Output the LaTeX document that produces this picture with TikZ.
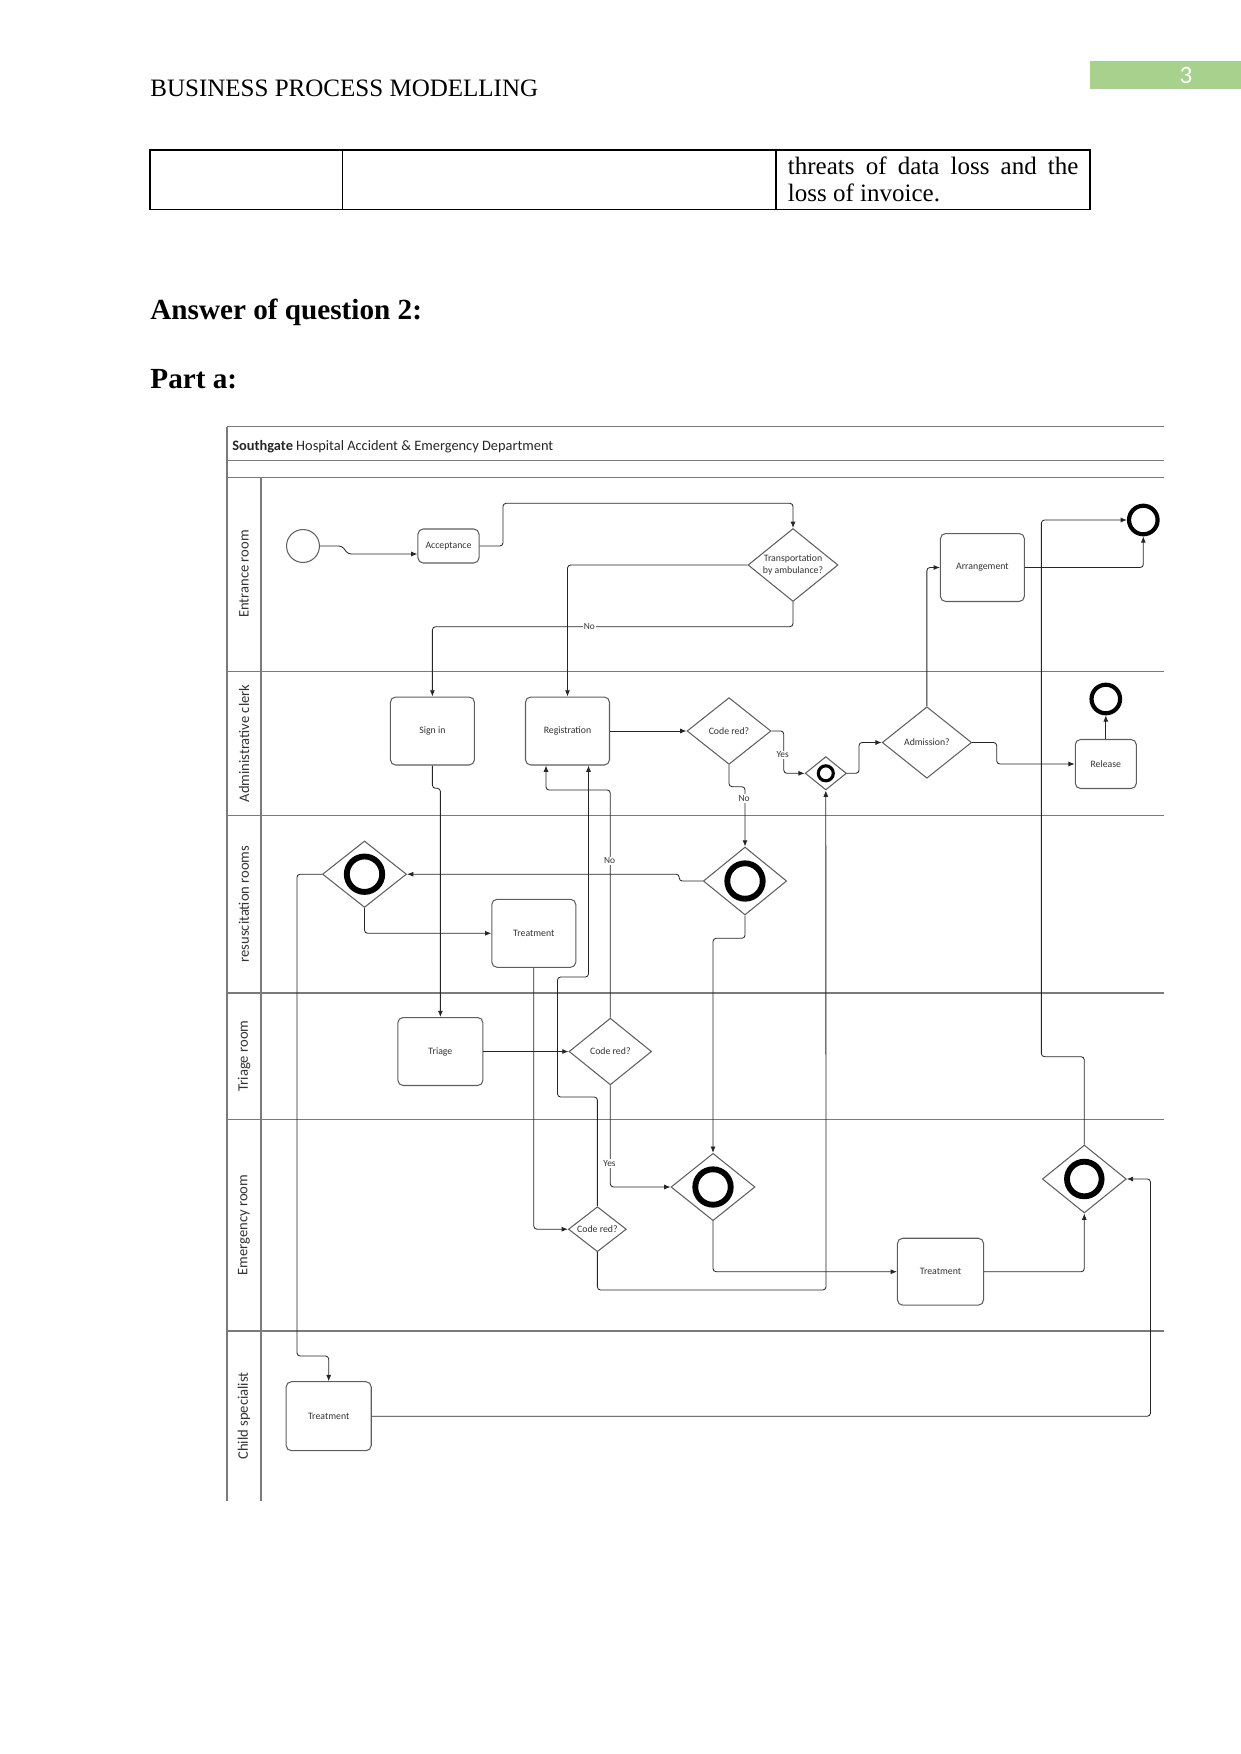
\documentclass[tikz,border=0pt]{standalone}
\usepackage{fontspec}
\setmainfont{Liberation Serif}
\newfontfamily\carl{Carlito}
\usetikzlibrary{shapes.geometric,arrows.meta,calc}
\definecolor{hdrgreen}{HTML}{A9D18E}
\definecolor{framecol}{HTML}{7A7A7A}
\definecolor{edgecol}{HTML}{5E5E5E}
\definecolor{ntext}{HTML}{333333}
\begin{document}
\begin{tikzpicture}[x=0.4797pt,y=-0.4797pt,
  taskbox/.style={draw=edgecol,line width=0.5pt,rounded corners=2.5pt,inner sep=0pt,
    font=\carl\fontsize{4.7}{5.6}\selectfont,text=ntext,fill=white},
  gate/.style={diamond,draw=edgecol,line width=0.5pt,inner sep=0pt,
    font=\carl\fontsize{4.7}{5.4}\selectfont,text=ntext,fill=white},
  startev/.style={circle,draw=edgecol,line width=0.5pt,inner sep=0pt,minimum size=15.8pt},
  endev/.style={circle,draw=black,line width=2pt,inner sep=0pt,minimum size=13.7pt},
  flow/.style={draw=black!85,line width=0.4pt,rounded corners=1.5pt,-{Latex[length=3pt,width=2.4pt]}},
  laneline/.style={draw=framecol,line width=0.7pt},
  lanelabel/.style={rotate=90,font=\carl\fontsize{7}{8}\selectfont,text=black!80},
  flowlabel/.style={font=\carl\fontsize{4.5}{5}\selectfont,fill=white,inner sep=0.6pt,text=ntext}
]
\useasboundingbox (0,0) rectangle (1241,1754);

% ---------- page header ----------
\node[anchor=base west,inner sep=0,font=\fontsize{12}{14}\selectfont] (hdr) at (150,96.7) {BUSINESS PROCESS MODELLING};
\fill[hdrgreen] (1090,61) rectangle (1241,89);
\node[font=\carl\fontsize{12}{14}\selectfont,text=white,inner sep=0] (pgno) at (1186,75.5) {3};

% ---------- table ----------
\draw[line width=0.55pt] (150,150) rectangle (1090,209.3);
\draw[line width=0.55pt] (342.6,150) -- (342.6,209.3);
\draw[line width=0.55pt] (776,150) -- (776,209.3);
\node[anchor=base west,inner sep=0,font=\fontsize{12}{14}\selectfont] (tl1) at (787.5,174)
  {\hbox to 139.4pt{threats\hfill of\hfill data\hfill loss\hfill and\hfill the}};
\node[anchor=base west,inner sep=0,font=\fontsize{12}{14}\selectfont] (tl2) at (787.5,201.7) {loss of invoice.};

% ---------- headings ----------
\node[anchor=base west,inner sep=0,font=\fontsize{14}{16}\selectfont\bfseries] (h1) at (150,319.3) {Answer of question 2:};
\node[anchor=base west,inner sep=0,font=\fontsize{14}{16}\selectfont\bfseries] (h2) at (150,388.3) {Part a:};

% ---------- pool frame ----------
\draw[laneline] (227,426.7) -- (1164,426.7);
\draw[laneline] (227,460.7) -- (1164,460.7);
\draw[laneline] (227,477.3) -- (1164,477.3);
\draw[laneline] (227,671.4) -- (1164,671.4);
\draw[laneline] (227,815.7) -- (1164,815.7);
\draw[laneline] (227,993) -- (1164,993);
\draw[laneline] (227,1119.3) -- (1164,1119.3);
\draw[laneline] (227,1331) -- (1164,1331);
\draw[laneline] (227,426.7) -- (227,1501);
\draw[laneline] (261,477.3) -- (261,1501);

\node[anchor=base west,inner sep=0,font=\carl\fontsize{6.9}{8}\selectfont,text=black!85] (title) at (232,450)
  {\textbf{Southgate} Hospital Accident \& Emergency Department};

\node[lanelabel] (L1) at (244,574) {Entrance room};
\node[lanelabel] (L2) at (244,743.5) {Administrative clerk};
\node[lanelabel] (L3) at (244,904) {resuscitation rooms};
\node[lanelabel] (L4) at (244,1056) {Triage room};
\node[lanelabel] (L5) at (244,1225) {Emergency room};
\node[lanelabel] (L6) at (244,1416) {Child specialist};

% ---------- nodes ----------
\node[startev] (start) at (303,546) {};
\node[taskbox,minimum width=29.3pt,minimum height=16.3pt] (acc) at (448.5,546) {Acceptance};
\node[gate,aspect=1.234,minimum width=43.2pt,minimum height=35pt,align=center] (trans) at (793,565) {Transportation\\by ambulance?};
\node[taskbox,minimum width=40.3pt,minimum height=32.6pt] (arr) at (982.4,567.5) {Arrangement};
\node[endev] (endA) at (1143.3,520) {};

\node[taskbox,minimum width=40.3pt,minimum height=32.6pt] (signin) at (432.4,731) {Sign in};
\node[taskbox,minimum width=40.3pt,minimum height=32.6pt] (reg) at (567.5,731) {Registration};
\node[gate,aspect=1.26,minimum width=40.3pt,minimum height=32pt] (cr1) at (729,731) {Code red?};
\node[gate,aspect=1.23,minimum width=19.8pt,minimum height=16pt] (ev1) at (825.8,773.3) {};
\node[gate,aspect=1.25,minimum width=42.9pt,minimum height=34.3pt] (adm) at (926.9,742.5) {Admission?};
\node[taskbox,minimum width=29.3pt,minimum height=23.5pt] (rel) at (1105.8,764) {Release};
\node[endev] (endB) at (1105.8,699) {};

\node[gate,aspect=1.26,minimum width=40.3pt,minimum height=31.9pt] (ev2) at (364.5,874.2) {};
\node[gate,aspect=1.23,minimum width=40pt,minimum height=32.6pt] (ev3) at (745,881) {};
\node[taskbox,minimum width=40.3pt,minimum height=32.6pt] (treat1) at (533.8,933.3) {Treatment};

\node[taskbox,minimum width=40.8pt,minimum height=32.6pt] (triage) at (440.4,1051.5) {Triage};
\node[gate,aspect=1.24,minimum width=39.6pt,minimum height=32pt] (cr2) at (610.3,1051.5) {Code red?};

\node[gate,aspect=1.25,minimum width=40.3pt,minimum height=32.3pt] (ev4) at (713,1187) {};
\node[gate,aspect=1.29,minimum width=27.8pt,minimum height=21.6pt] (cr3) at (597.4,1229.2) {Code red?};
\node[taskbox,minimum width=41.3pt,minimum height=32.1pt] (treat2) at (940.5,1271.7) {Treatment};
\node[gate,aspect=1.24,minimum width=40.3pt,minimum height=32.6pt] (ev5) at (1084.3,1179) {};

\node[taskbox,minimum width=40.8pt,minimum height=33.1pt] (treat3) at (328.7,1416.2) {Treatment};

% rings inside the event gateways
\draw[line width=1.5pt] (ev1.center) circle (3.6pt);
\draw[line width=2.8pt] (ev2.center) circle (8.5pt);
\draw[line width=2.8pt] (ev3.center) circle (8.5pt);
\draw[line width=2.8pt] (ev4.center) circle (8.5pt);
\draw[line width=2.8pt] (ev5.center) circle (8.3pt);

% ---------- connectors ----------
\draw[flow] (start.east) -- (342,546) -- (348,554) -- (acc.west |- 348,554);
\draw[flow] (acc.east) -| (503,503.3) -| (trans.north);
\draw[flow] (trans.west) -| (reg.north);
\draw[flow] (trans.south) -- (793,626.7) -| (signin.north);
\node[flowlabel] (noA) at (589.3,626.7) {No};
\draw[flow] (adm.north) |- (arr.west);
\draw[flow] (arr.east) -| (endA.south);
\draw[flow] (ev5.north) |- (1041.4,1056.7) |- (endA.west);
\draw[flow] (reg.east) -- (cr1.west);
\draw[flow] (cr1.east) -| (783.8,773.3) -- (ev1.west);
\node[flowlabel] (yesA) at (782.7,755) {Yes};
\draw[flow] (ev1.east) -| (859,742.5) -- (adm.west);
\draw[flow] (adm.east) -| (996.7,764) -- (rel.west);
\draw[flow] (rel.north) -- (endB.south);
\draw[flow] (cr1.south) |- (745,786.7) -- (ev3.north);
\node[flowlabel] (noB) at (744,798.3) {No};
\draw[flow] (ev3.west) -| (679.2,874.2) -- (ev2.east);
\draw[flow] (cr2.north) |- (546,790) -- (reg.south -| 546,0);
\node[flowlabel] (noC) at (609.5,861) {No};
\draw[flow] (cr3.north) |- (557.5,1097) |- (588.5,977) -- (reg.south -| 588.5,0);
\draw[flow] (signin.south) |- (440.4,788.3) -- (triage.north);
\draw[flow] (ev2.south) |- (treat1.west);
\draw[flow] (treat1.south) |- (cr3.west);
\draw[flow] (ev2.west) -| (297,1356) -| (treat3.north);
\draw[flow] (ev3.south) |- (713,938.3) -- (ev4.north);
\draw[flow] (triage.east) -- (cr2.west);
\draw[flow] (cr2.south) |- (ev4.west);
\node[flowlabel] (yesB) at (609.5,1163.3) {Yes};
\draw[flow] (ev4.south) |- (treat2.west);
\draw[flow] (treat2.east) -| (ev5.south);
\draw[flow] (cr3.south) |- (826,1290) -- (ev1.south);
\draw[flow] (treat3.east) -| (1150.5,1179) -- (ev5.east);
\end{tikzpicture}
\end{document}
